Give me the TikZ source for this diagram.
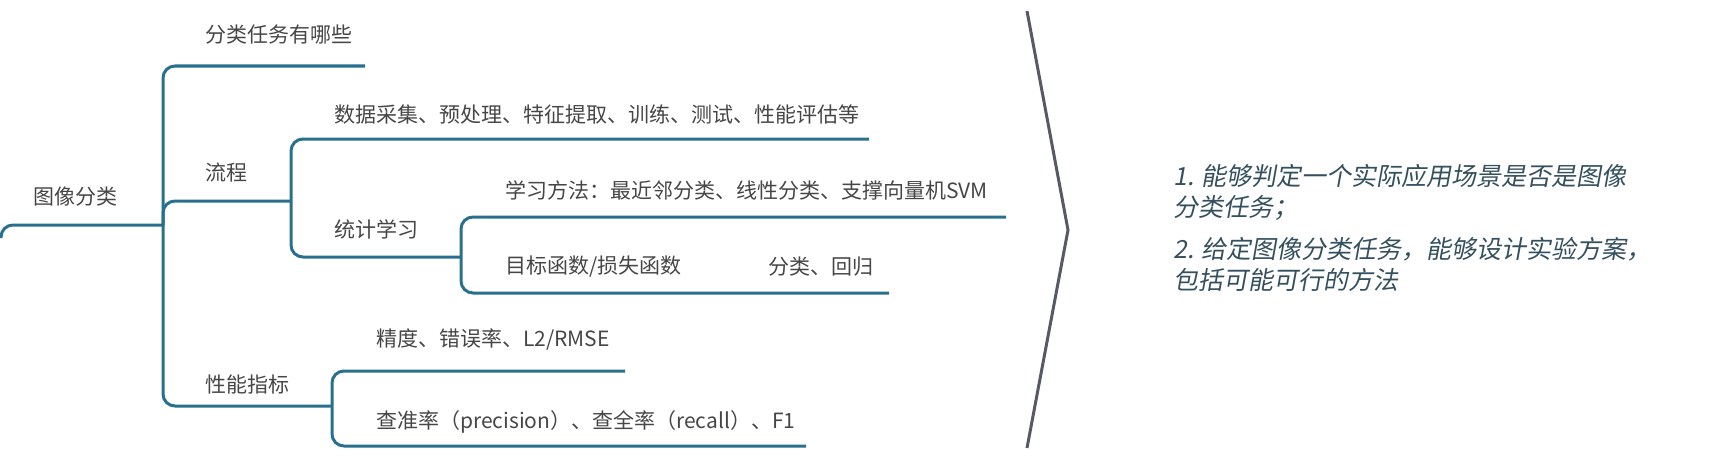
\documentclass[tikz,border=0pt]{standalone}
\usepackage{fontspec}
\setmainfont{Noto Sans CJK SC}
\newfontfamily\slantcjk[FakeSlant=0.18]{Noto Sans CJK SC}
\definecolor{mmline}{RGB}{40,112,142}
\definecolor{mmtext}{RGB}{70,70,70}
\definecolor{mmgoal}{RGB}{52,80,94}
\definecolor{mmbrace}{RGB}{85,90,100}
\tikzset{
  topic/.style={
    anchor=west, inner sep=0pt, text=mmtext,
    font=\fontsize{21}{25}\selectfont
  },
  goal/.style={
    anchor=west, inner sep=0pt, align=left, text=mmgoal,
    font=\slantcjk\fontsize{25}{31}\selectfont
  },
  branch/.style={draw=mmline, line width=3pt, rounded corners=12pt},
  brace/.style={draw=mmbrace, line width=3pt, line join=miter}
}

\begin{document}
\begin{tikzpicture}[x=1pt,y=-1pt]
  \useasboundingbox (0,0) rectangle (1736,460);

  \node[topic] (root) at (33,197) {图像分类};
  \node[topic] (kinds) at (205,35) {分类任务有哪些};
  \node[topic] (flow) at (205,172) {流程};
  \node[topic] (steps) at (334,114) {数据采集、预处理、特征提取、训练、测试、性能评估等};
  \node[topic] (stat) at (334,229) {统计学习};
  \node[topic] (method) at (505,190) {学习方法：最近邻分类、线性分类、支撑向量机SVM};
  \node[topic] (loss) at (505,267) {目标函数/损失函数};
  \node[topic] (task) at (768,267) {分类、回归};
  \node[topic] (metric) at (205,384) {性能指标};
  \node[topic] (acc) at (376,339) {精度、错误率、L2/RMSE};
  \node[topic] (pr) at (376,422) {查准率（precision）、查全率（recall）、F1};

  \coordinate (rootin) at (1,238);
  \coordinate (hub) at (163,225);
  \coordinate (flowhub) at (291,201);
  \coordinate (stathub) at (461,257);
  \coordinate (metrichub) at (332,406);
  \coordinate (kindsend) at (365,66);
  \coordinate (stepsend) at (869,139);
  \coordinate (methodend) at (1006,217);
  \coordinate (lossend) at (889,293);
  \coordinate (accend) at (625,371);
  \coordinate (prend) at (806,446);

  \draw[branch] (rootin) |- (hub);
  \draw[branch] (hub) |- (kindsend);
  \draw[branch] (hub) |- (flowhub);
  \draw[branch] (hub) |- (metrichub);
  \draw[branch] (flowhub) |- (stepsend);
  \draw[branch] (flowhub) |- (stathub);
  \draw[branch] (stathub) |- (methodend);
  \draw[branch] (stathub) |- (lossend);
  \draw[branch] (metrichub) |- (accend);
  \draw[branch] (metrichub) |- (prend);

  \coordinate (chtop) at (1027,11);
  \coordinate (chtip) at (1068,230);
  \coordinate (chbot) at (1027,448);
  \draw[brace] (chtop) -- (chtip) -- (chbot);

  \node[goal] (goal1) at (1173,192) {1. 能够判定一个实际应用场景是否是图像\\分类任务；};
  \node[goal] (goal2) at (1173,264) {2. 给定图像分类任务，能够设计实验方案，\\包括可能可行的方法};
\end{tikzpicture}
\end{document}
